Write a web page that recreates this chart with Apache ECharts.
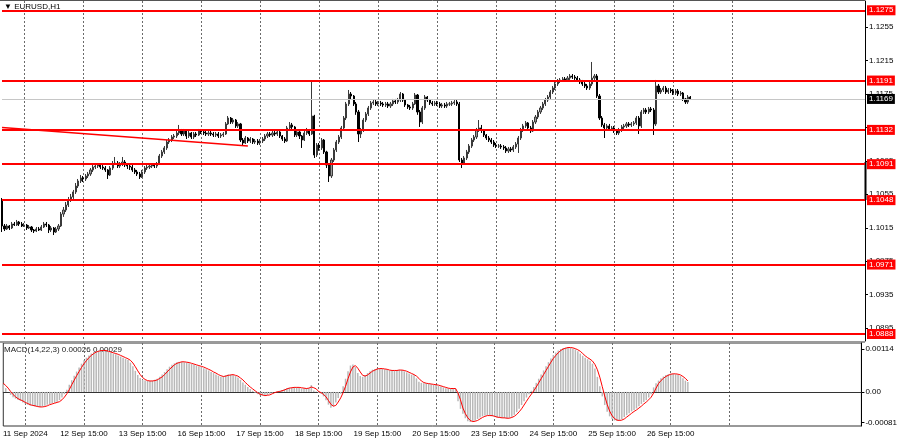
<!DOCTYPE html>
<html><head><meta charset="utf-8">
<script src="https://cdn.jsdelivr.net/npm/echarts/dist/echarts.min.js"></script>
<style>html,body{margin:0;padding:0;background:#fff}#c{width:900px;height:441px}</style>
</head><body><div id="c"></div>
<script>
// ---- data ----
const days = ['11 Sep','12 Sep','13 Sep','16 Sep','17 Sep','18 Sep','19 Sep','20 Sep','23 Sep','24 Sep','25 Sep','26 Sep','27 Sep','30 Sep','1 Oct'];
const firstHour = 6;
const slotCount = 352;
const firstLabel = '11 Sep 2024';
const firstOpen = 1.10482;
const closes = [
1.10171,1.10135,1.10171,1.10147,1.10195,1.10183,1.10219,1.10195,1.10171,1.10183,
1.10147,1.10159,1.10123,1.10111,1.10135,1.10123,1.10159,1.10195,1.10183,1.10123,
1.10147,1.10099,1.10135,1.10171,1.10314,1.10362,1.10422,1.10482,1.10518,1.10578,
1.10649,1.10709,1.10745,1.10733,1.10769,1.10793,1.10841,1.10876,1.10888,1.10900,
1.10876,1.10864,1.10841,1.10781,1.10864,1.10912,1.10924,1.10888,1.10912,1.10936,
1.10900,1.10888,1.10876,1.10841,1.10817,1.10793,1.10757,1.10817,1.10864,1.10876,
1.10888,1.10900,1.10888,1.10912,1.11008,1.11056,1.11104,1.11175,1.11199,1.11235,
1.11247,1.11283,1.11319,1.11271,1.11307,1.11247,1.11283,1.11235,1.11271,1.11259,
1.11307,1.11295,1.11283,1.11271,1.11283,1.11271,1.11259,1.11271,1.11247,1.11259,
1.11271,1.11391,1.11462,1.11414,1.11438,1.11367,1.11391,1.11199,1.11163,1.11223,
1.11187,1.11211,1.11175,1.11187,1.11163,1.11187,1.11211,1.11247,1.11271,1.11259,
1.11283,1.11271,1.11295,1.11247,1.11211,1.11187,1.11343,1.11379,1.11355,1.11259,
1.11295,1.11247,1.11199,1.11283,1.11319,1.11271,1.11486,1.11020,1.11139,1.11104,
1.11199,1.11056,1.10900,1.10769,1.10960,1.11080,1.11175,1.11235,1.11343,1.11462,
1.11630,1.11749,1.11725,1.11630,1.11534,1.11271,1.11319,1.11438,1.11510,1.11582,
1.11642,1.11654,1.11630,1.11642,1.11630,1.11618,1.11630,1.11606,1.11630,1.11666,
1.11654,1.11677,1.11749,1.11677,1.11618,1.11594,1.11582,1.11630,1.11737,1.11534,
1.11414,1.11582,1.11713,1.11677,1.11642,1.11630,1.11642,1.11630,1.11606,1.11618,
1.11606,1.11630,1.11630,1.11642,1.11654,1.11630,1.10960,1.10924,1.10984,1.11056,
1.11127,1.11199,1.11235,1.11319,1.11343,1.11319,1.11259,1.11223,1.11199,1.11175,
1.11139,1.11127,1.11127,1.11116,1.11104,1.11068,1.11092,1.11080,1.11116,1.11151,
1.11223,1.11319,1.11367,1.11403,1.11343,1.11307,1.11414,1.11474,1.11534,1.11582,
1.11630,1.11677,1.11713,1.11773,1.11821,1.11869,1.11905,1.11917,1.11929,1.11917,
1.11940,1.11964,1.11952,1.11940,1.11917,1.11893,1.11869,1.11845,1.11821,1.11869,
1.11940,1.11964,1.11725,1.11462,1.11379,1.11343,1.11367,1.11331,1.11343,1.11307,
1.11283,1.11319,1.11355,1.11367,1.11391,1.11379,1.11391,1.11403,1.11462,1.11367,
1.11534,1.11558,1.11534,1.11570,1.11558,1.11391,1.11845,1.11773,1.11797,1.11821,
1.11773,1.11797,1.11785,1.11761,1.11785,1.11749,1.11761,1.11690,1.11654,1.11713,
1.11690];
const highs = [
1.10506,1.10195,1.10195,1.10183,1.10219,1.10219,1.10243,1.10231,1.10219,1.10207,
1.10195,1.10183,1.10171,1.10135,1.10159,1.10159,1.10183,1.10219,1.10219,1.10195,
1.10171,1.10159,1.10159,1.10195,1.10338,1.10398,1.10458,1.10518,1.10554,1.10602,
1.10685,1.10733,1.10781,1.10769,1.10793,1.10817,1.10864,1.10900,1.10912,1.10924,
1.10912,1.10900,1.10888,1.10852,1.10888,1.10948,1.10996,1.10948,1.10936,1.10996,
1.10960,1.10924,1.10912,1.10900,1.10864,1.10841,1.10817,1.10841,1.10888,1.10900,
1.10912,1.10924,1.10924,1.10936,1.11032,1.11080,1.11127,1.11199,1.11223,1.11259,
1.11271,1.11307,1.11379,1.11331,1.11331,1.11319,1.11307,1.11295,1.11295,1.11295,
1.11331,1.11331,1.11319,1.11307,1.11307,1.11307,1.11295,1.11295,1.11295,1.11283,
1.11295,1.11414,1.11486,1.11474,1.11462,1.11450,1.11414,1.11403,1.11223,1.11247,
1.11235,1.11235,1.11223,1.11211,1.11211,1.11211,1.11235,1.11271,1.11295,1.11295,
1.11307,1.11307,1.11319,1.11307,1.11259,1.11235,1.11367,1.11414,1.11403,1.11367,
1.11319,1.11307,1.11259,1.11307,1.11343,1.11331,1.11893,1.11500,1.11163,1.11163,
1.11223,1.11211,1.11070,1.10924,1.10984,1.11104,1.11199,1.11259,1.11367,1.11486,
1.11654,1.11797,1.11773,1.11737,1.11654,1.11558,1.11343,1.11462,1.11534,1.11606,
1.11666,1.11677,1.11677,1.11666,1.11666,1.11654,1.11654,1.11654,1.11654,1.11690,
1.11690,1.11702,1.11773,1.11761,1.11690,1.11630,1.11618,1.11654,1.11761,1.11749,
1.11558,1.11606,1.11737,1.11725,1.11690,1.11666,1.11666,1.11666,1.11654,1.11642,
1.11642,1.11654,1.11654,1.11666,1.11677,1.11677,1.11654,1.10984,1.11008,1.11080,
1.11151,1.11223,1.11259,1.11343,1.11438,1.11379,1.11331,1.11271,1.11247,1.11223,
1.11199,1.11163,1.11151,1.11151,1.11139,1.11127,1.11116,1.11116,1.11139,1.11175,
1.11247,1.11343,1.11391,1.11426,1.11414,1.11367,1.11438,1.11498,1.11558,1.11606,
1.11654,1.11702,1.11737,1.11797,1.11845,1.11893,1.11929,1.11940,1.11952,1.11952,
1.11964,1.11988,1.11988,1.11976,1.11964,1.11940,1.11917,1.11893,1.11869,1.11893,
1.12132,1.11988,1.11988,1.11749,1.11486,1.11403,1.11391,1.11391,1.11367,1.11367,
1.11331,1.11343,1.11379,1.11391,1.11414,1.11414,1.11414,1.11426,1.11486,1.11486,
1.11558,1.11582,1.11582,1.11594,1.11594,1.11582,1.11917,1.11869,1.11821,1.11845,
1.11845,1.11821,1.11821,1.11809,1.11809,1.11809,1.11785,1.11773,1.11702,1.11737,
1.11725];
const lows = [
1.10099,1.10111,1.10123,1.10123,1.10135,1.10171,1.10171,1.10171,1.10159,1.10159,
1.10123,1.10135,1.10099,1.10087,1.10099,1.10111,1.10111,1.10147,1.10159,1.10087,
1.10099,1.10063,1.10087,1.10111,1.10159,1.10280,1.10338,1.10398,1.10458,1.10494,
1.10554,1.10625,1.10685,1.10697,1.10709,1.10745,1.10770,1.10817,1.10852,1.10864,
1.10852,1.10841,1.10817,1.10733,1.10769,1.10841,1.10900,1.10864,1.10864,1.10888,
1.10876,1.10852,1.10841,1.10817,1.10793,1.10769,1.10733,1.10745,1.10793,1.10841,
1.10852,1.10864,1.10864,1.10864,1.10900,1.10984,1.11032,1.11080,1.11151,1.11175,
1.11211,1.11223,1.11259,1.11247,1.11247,1.11211,1.11223,1.11211,1.11211,1.11235,
1.11247,1.11271,1.11259,1.11247,1.11247,1.11247,1.11235,1.11235,1.11223,1.11223,
1.11235,1.11259,1.11379,1.11391,1.11391,1.11343,1.11343,1.11175,1.11139,1.11151,
1.11163,1.11163,1.11151,1.11151,1.11139,1.11139,1.11163,1.11187,1.11223,1.11235,
1.11235,1.11247,1.11247,1.11223,1.11187,1.11163,1.11175,1.11319,1.11331,1.11235,
1.11235,1.11211,1.11104,1.11187,1.11259,1.11247,1.11259,1.10984,1.10996,1.11070,
1.11080,1.11032,1.10864,1.10697,1.10745,1.10936,1.11056,1.11151,1.11211,1.11319,
1.11438,1.11606,1.11689,1.11606,1.11500,1.11175,1.11223,1.11295,1.11414,1.11486,
1.11558,1.11618,1.11606,1.11606,1.11606,1.11594,1.11594,1.11582,1.11582,1.11606,
1.11630,1.11630,1.11654,1.11654,1.11594,1.11570,1.11558,1.11558,1.11618,1.11500,
1.11355,1.11391,1.11558,1.11654,1.11618,1.11606,1.11606,1.11606,1.11582,1.11582,
1.11582,1.11582,1.11606,1.11606,1.11618,1.11606,1.10936,1.10864,1.10900,1.10960,
1.11032,1.11104,1.11175,1.11211,1.11295,1.11283,1.11235,1.11199,1.11175,1.11151,
1.11116,1.11104,1.11104,1.11092,1.11080,1.11044,1.11044,1.11056,1.11056,1.11092,
1.11044,1.11199,1.11295,1.11343,1.11319,1.11283,1.11295,1.11391,1.11450,1.11510,
1.11558,1.11606,1.11654,1.11690,1.11749,1.11797,1.11845,1.11881,1.11893,1.11893,
1.11893,1.11917,1.11929,1.11917,1.11893,1.11869,1.11845,1.11821,1.11797,1.11797,
1.11845,1.11917,1.11702,1.11438,1.11355,1.11223,1.11319,1.11307,1.11307,1.11283,
1.11259,1.11259,1.11295,1.11331,1.11343,1.11355,1.11355,1.11367,1.11379,1.11271,
1.11343,1.11510,1.11510,1.11510,1.11534,1.11259,1.11367,1.11749,1.11749,1.11773,
1.11749,1.11749,1.11761,1.11737,1.11737,1.11725,1.11725,1.11666,1.11630,1.11630,
1.11677];
const macd = [
0.00020,0.00010,0.00000,-0.00008,-0.00014,-0.00018,-0.00021,-0.00024,-0.00028,-0.00031,
-0.00034,-0.00036,-0.00037,-0.00039,-0.00040,-0.00040,-0.00039,-0.00037,-0.00034,-0.00032,
-0.00030,-0.00029,-0.00026,-0.00022,-0.00015,-0.00006,0.00006,0.00019,0.00031,0.00043,
0.00054,0.00065,0.00075,0.00084,0.00091,0.00097,0.00102,0.00106,0.00109,0.00110,
0.00111,0.00110,0.00108,0.00106,0.00104,0.00102,0.00100,0.00097,0.00094,0.00091,
0.00088,0.00085,0.00078,0.00068,0.00056,0.00045,0.00037,0.00032,0.00030,0.00029,
0.00029,0.00030,0.00032,0.00035,0.00040,0.00046,0.00053,0.00060,0.00067,0.00072,
0.00076,0.00079,0.00080,0.00080,0.00079,0.00078,0.00076,0.00074,0.00072,0.00070,
0.00068,0.00066,0.00063,0.00060,0.00057,0.00053,0.00050,0.00046,0.00043,0.00040,
0.00041,0.00044,0.00046,0.00046,0.00045,0.00042,0.00038,0.00032,0.00025,0.00019,
0.00013,0.00008,0.00003,-0.00002,-0.00006,-0.00009,-0.00010,-0.00010,-0.00008,-0.00005,
-0.00002,0.00000,0.00001,0.00003,0.00005,0.00008,0.00010,0.00011,0.00012,0.00013,
0.00012,0.00011,0.00009,0.00009,0.00010,0.00010,0.00018,0.00004,0.00001,-0.00003,
-0.00005,-0.00012,-0.00022,-0.00034,-0.00042,-0.00038,-0.00028,-0.00016,-0.00005,0.00015,
0.00035,0.00055,0.00070,0.00073,0.00066,0.00050,0.00042,0.00040,0.00045,0.00050,
0.00055,0.00059,0.00061,0.00062,0.00062,0.00061,0.00060,0.00058,0.00057,0.00056,
0.00057,0.00058,0.00059,0.00058,0.00055,0.00052,0.00049,0.00046,0.00044,0.00036,
0.00027,0.00024,0.00023,0.00022,0.00021,0.00020,0.00019,0.00018,0.00016,0.00014,
0.00012,0.00010,0.00009,0.00009,0.00009,0.00008,-0.00025,-0.00045,-0.00058,-0.00070,
-0.00078,-0.00080,-0.00079,-0.00076,-0.00072,-0.00068,-0.00065,-0.00063,-0.00062,-0.00063,
-0.00065,-0.00067,-0.00068,-0.00069,-0.00069,-0.00070,-0.00070,-0.00069,-0.00066,-0.00061,
-0.00054,-0.00045,-0.00035,-0.00025,-0.00015,-0.00006,0.00003,0.00013,0.00024,0.00035,
0.00046,0.00057,0.00068,0.00079,0.00089,0.00098,0.00105,0.00110,0.00114,0.00117,
0.00118,0.00118,0.00117,0.00115,0.00113,0.00108,0.00102,0.00096,0.00091,0.00087,
0.00083,0.00075,0.00062,0.00040,0.00015,-0.00012,-0.00035,-0.00053,-0.00065,-0.00072,
-0.00076,-0.00077,-0.00076,-0.00072,-0.00067,-0.00062,-0.00057,-0.00052,-0.00048,-0.00044,
-0.00038,-0.00032,-0.00027,-0.00022,-0.00015,-0.00006,0.00012,0.00023,0.00030,0.00036,
0.00041,0.00045,0.00047,0.00048,0.00048,0.00047,0.00045,0.00042,0.00036,0.00030,
0.00026];
const signal = [
0.00023,0.00017,0.00010,0.00001,-0.00007,-0.00013,-0.00018,-0.00021,-0.00024,-0.00028,
-0.00031,-0.00034,-0.00036,-0.00037,-0.00039,-0.00040,-0.00040,-0.00039,-0.00037,-0.00034,
-0.00032,-0.00030,-0.00028,-0.00026,-0.00021,-0.00014,-0.00005,0.00006,0.00019,0.00031,
0.00043,0.00054,0.00065,0.00075,0.00083,0.00091,0.00097,0.00102,0.00106,0.00108,
0.00110,0.00110,0.00110,0.00108,0.00106,0.00104,0.00102,0.00100,0.00097,0.00094,
0.00091,0.00088,0.00084,0.00077,0.00067,0.00056,0.00046,0.00038,0.00033,0.00030,
0.00029,0.00029,0.00030,0.00032,0.00036,0.00040,0.00046,0.00053,0.00060,0.00066,
0.00072,0.00076,0.00078,0.00080,0.00080,0.00079,0.00078,0.00076,0.00074,0.00072,
0.00070,0.00068,0.00066,0.00063,0.00060,0.00057,0.00053,0.00050,0.00046,0.00043,
0.00041,0.00042,0.00044,0.00045,0.00046,0.00044,0.00042,0.00037,0.00032,0.00025,
0.00019,0.00013,0.00008,0.00003,-0.00002,-0.00006,-0.00008,-0.00010,-0.00009,-0.00008,
-0.00005,-0.00002,0.00000,0.00001,0.00003,0.00005,0.00008,0.00010,0.00011,0.00012,
0.00012,0.00012,0.00011,0.00010,0.00009,0.00010,0.00013,0.00011,0.00008,0.00001,
-0.00002,-0.00007,-0.00013,-0.00023,-0.00033,-0.00038,-0.00036,-0.00027,-0.00016,-0.00002,
0.00015,0.00035,0.00053,0.00066,0.00070,0.00063,0.00053,0.00044,0.00042,0.00045,
0.00050,0.00055,0.00058,0.00061,0.00062,0.00062,0.00061,0.00060,0.00058,0.00057,
0.00057,0.00057,0.00058,0.00058,0.00057,0.00055,0.00052,0.00049,0.00046,0.00042,
0.00036,0.00029,0.00025,0.00023,0.00022,0.00021,0.00020,0.00019,0.00018,0.00016,
0.00014,0.00012,0.00010,0.00009,0.00009,0.00009,-0.00003,-0.00021,-0.00043,-0.00058,
-0.00069,-0.00076,-0.00079,-0.00078,-0.00076,-0.00072,-0.00068,-0.00065,-0.00063,-0.00063,
-0.00063,-0.00065,-0.00067,-0.00068,-0.00069,-0.00069,-0.00070,-0.00070,-0.00068,-0.00065,
-0.00060,-0.00053,-0.00045,-0.00035,-0.00025,-0.00015,-0.00006,0.00003,0.00013,0.00024,
0.00035,0.00046,0.00057,0.00068,0.00079,0.00089,0.00097,0.00104,0.00110,0.00114,
0.00116,0.00118,0.00118,0.00117,0.00115,0.00112,0.00108,0.00102,0.00096,0.00091,
0.00087,0.00082,0.00073,0.00059,0.00039,0.00014,-0.00011,-0.00033,-0.00051,-0.00063,
-0.00071,-0.00075,-0.00076,-0.00075,-0.00072,-0.00067,-0.00062,-0.00057,-0.00052,-0.00048,
-0.00043,-0.00038,-0.00032,-0.00027,-0.00021,-0.00014,-0.00003,0.00010,0.00022,0.00030,
0.00036,0.00041,0.00044,0.00047,0.00048,0.00048,0.00047,0.00045,0.00041,0.00036,
0.00029];
const levels = [1.1275, 1.1191, 1.1132, 1.1091, 1.1048, 1.0971, 1.0888];
const lastPrice = 1.1169;
const priceTicks = [1.0895, 1.0935, 1.0975, 1.1015, 1.1055, 1.1095, 1.1135, 1.1175, 1.1215, 1.1255];
const macdTicks = [-0.00081, 0, 0.00114];
const trendLine = [[0, 1.11349], [100, 1.11128]];
const titleText = '▼ EURUSD,H1';
const macdText = 'MACD(14,22,3) 0.00026 0.00029';

// ---- build ----
const categories = [];
for (let i = 0; i < slotCount; i++) {
  const s = firstHour + i;
  categories.push(days[Math.floor(s / 24)] + ' ' + String(s % 24).padStart(2, '0') + ':00');
}
const opens = [firstOpen].concat(closes.slice(0, -1));
const candles = closes.map((c, i) => [opens[i], c, lows[i], highs[i]]);
const isLabel = i => i >= 9 && i <= 273 && (i - 9) % 24 === 0;
const isGrid = i => i >= 9 && i <= 297 && (i - 9) % 24 === 0;
const FONT = 'Liberation Sans, Arial, sans-serif';
const vLines = {show: true, interval: (i) => isGrid(i), lineStyle: {color: '#6a6a6a', type: [2, 2], width: 1}};

const lblBase = {show: true, position: 'end', distance: 2, color: '#fff', fontSize: 8, lineHeight: 9, padding: [1, 2, 0, 2], fontFamily: FONT};
const levelLine = (v, color, width, bg) => ({
  type: 'line', xAxisIndex: 0, yAxisIndex: 0, data: [], silent: true, symbol: 'none',
  markLine: {silent: true, symbol: ['none', 'none'], animation: false, precision: 6,
    lineStyle: {color: color, width: width, type: 'solid'},
    label: Object.assign({}, lblBase, {formatter: v.toFixed(4), backgroundColor: bg}),
    data: [{yAxis: v}]}
});

const series = [
  {type: 'candlestick', xAxisIndex: 0, yAxisIndex: 0, data: candles, barWidth: 1.6,
   itemStyle: {color: '#9a9a9a', color0: '#000', borderColor: '#3a3a3a', borderColor0: '#000', borderWidth: 1}},
  {type: 'line', xAxisIndex: 0, yAxisIndex: 0, data: trendLine, symbol: 'none', silent: true,
   lineStyle: {color: '#ff0000', width: 1.5}},
  levelLine(lastPrice, '#c6c6c6', 1, '#000')
].concat(levels.map(v => levelLine(v, '#ff0000', 2, '#ff0000'))).concat([
  {type: 'bar', xAxisIndex: 1, yAxisIndex: 1, data: macd, barWidth: 1.5, silent: true,
   itemStyle: {color: '#b8b8b8'}},
  {type: 'line', xAxisIndex: 1, yAxisIndex: 1, data: signal, symbol: 'none', silent: true,
   lineStyle: {color: '#ff0000', width: 1}}
]);

const chart = echarts.init(document.getElementById('c'), null, {renderer: 'canvas'});
chart.setOption({
  animation: false,
  backgroundColor: '#fff',
  textStyle: {fontFamily: FONT},
  grid: [
    {left: 2, right: 35, top: 1, height: 340, show: false},
    {left: 2, right: 35, top: 343, height: 83, show: true, borderColor: '#333', borderWidth: 1}
  ],
  xAxis: [
    {type: 'category', gridIndex: 0, data: categories, boundaryGap: false,
     axisLine: {show: false}, axisTick: {show: false}, axisLabel: {show: false}, splitLine: vLines},
    {type: 'category', gridIndex: 1, data: categories, boundaryGap: false,
     axisLine: {show: true, lineStyle: {color: '#333'}}, axisTick: {show: false},
     axisLabel: {show: true, interval: (i) => isLabel(i), formatter: (v, i) => i === 9 ? firstLabel : v,
       fontSize: 8, color: '#000', margin: 4, fontFamily: FONT},
     splitLine: vLines}
  ],
  yAxis: [
    {type: 'value', gridIndex: 0, position: 'right', min: 1.08796, max: 1.12861,
     splitLine: {show: false}, axisLine: {show: true, lineStyle: {color: '#000'}},
     axisTick: {show: true, length: 3, customValues: priceTicks, lineStyle: {color: '#000'}},
     axisLabel: {customValues: priceTicks, formatter: v => v.toFixed(4), fontSize: 8, color: '#000', margin: 4, fontFamily: FONT}},
    {type: 'value', gridIndex: 1, position: 'right', min: -0.000907, max: 0.0013,
     splitLine: {show: false}, axisLine: {show: true, lineStyle: {color: '#000'}},
     axisTick: {show: true, length: 3, customValues: macdTicks, lineStyle: {color: '#000'}},
     axisLabel: {customValues: macdTicks, formatter: v => v === 0 ? '0.00' : v.toFixed(5), fontSize: 8, color: '#000', margin: 4, fontFamily: FONT}}
  ],
  series: series,
  graphic: [
    {type: 'line', shape: {x1: 0, y1: 0.5, x2: 865, y2: 0.5}, style: {stroke: '#555', lineWidth: 1}, silent: true},
    {type: 'rect', shape: {x: 0, y: 341, width: 865, height: 2}, style: {fill: '#9a9a9a'}, silent: true},
    {type: 'line', shape: {x1: 865.5, y1: 162, x2: 865.5, y2: 200}, style: {stroke: '#000', lineWidth: 2}, silent: true},
    {type: 'text', left: 4, top: 3, style: {text: titleText, font: '8px ' + FONT, fill: '#000'}, silent: true},
    {type: 'text', left: 4, top: 346, style: {text: macdText, font: '8px ' + FONT, fill: '#222'}, silent: true}
  ]
});
</script>
</body></html>
